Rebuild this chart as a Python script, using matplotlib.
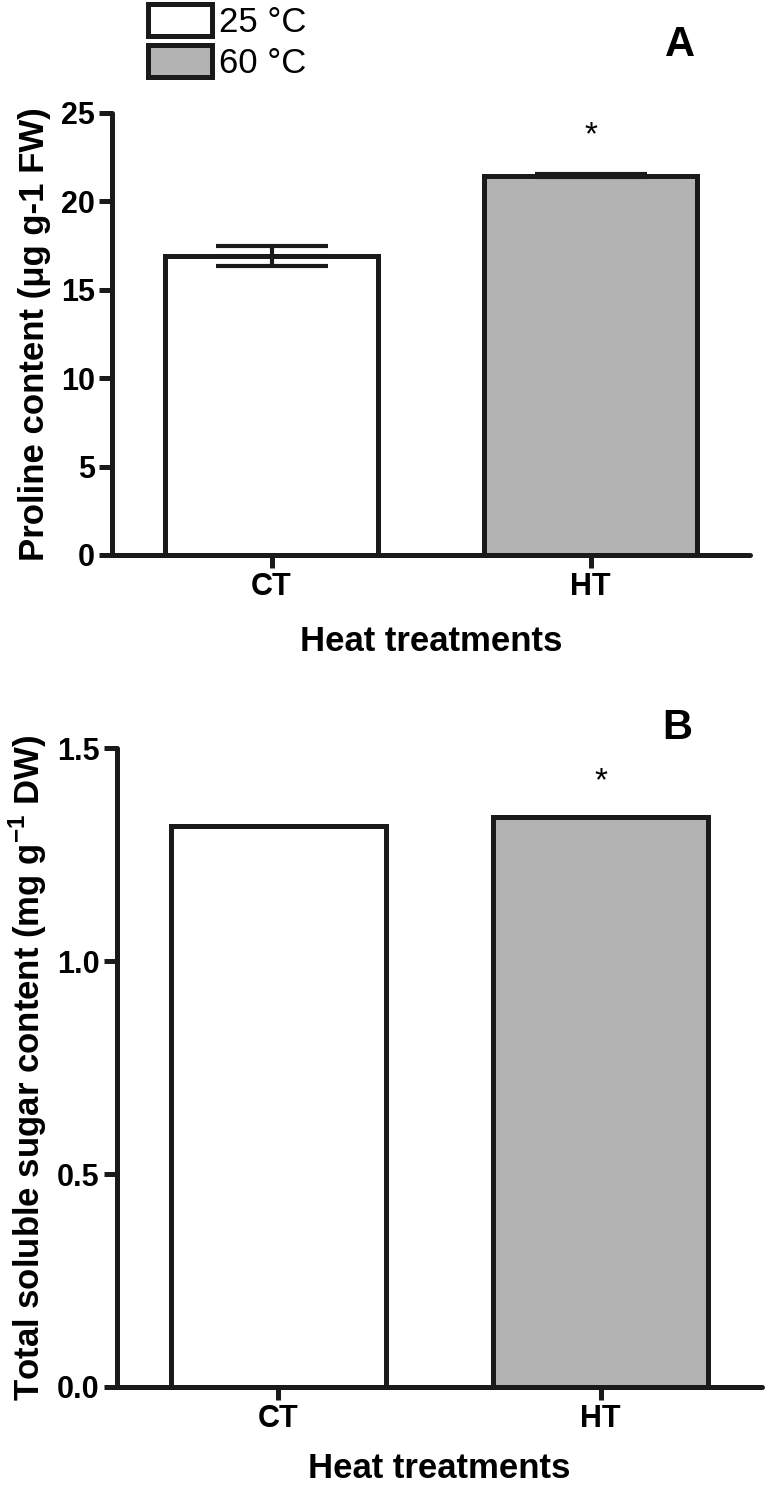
import numpy as np
import matplotlib.pyplot as plt
from matplotlib.patches import Patch

plt.rcParams['font.family'] = ['Liberation Sans', 'DejaVu Sans']
plt.rcParams['mathtext.fontset'] = 'custom'
plt.rcParams['mathtext.rm'] = 'Liberation Sans'
plt.rcParams['mathtext.bf'] = 'Liberation Sans:bold'

# data
groups = ['CT', 'HT']
legend_labels = ['25 \u00b0C', '60 \u00b0C']
proline = [16.9, 21.45]
proline_err = [0.57, 0.08]
sugar = [1.317, 1.337]
sugar_err = [0.0, 0.002]
proline_ticks = [0, 5, 10, 15, 20, 25]
sugar_ticks = [0.0, 0.5, 1.0, 1.5]

colors = ['white', '#b3b3b3']
edge = '#1a1a1a'
lw = 3.6


def style_axes(ax):
    for s in ['top', 'right']:
        ax.spines[s].set_visible(False)
    for s in ['left', 'bottom']:
        ax.spines[s].set_linewidth(lw)
        ax.spines[s].set_color(edge)
        ax.spines[s].set_capstyle('round')
    ax.tick_params(direction='out', length=9.5, width=lw, color=edge,
                   labelsize=22, pad=3)
    for lab in ax.get_xticklabels() + ax.get_yticklabels():
        lab.set_fontweight('bold')


fig = plt.figure(figsize=(7.68, 14.86), dpi=100)

# panel A
axA = fig.add_axes([112/768, 1-555/1486, 638/768, 442/1486])
x = np.arange(len(groups))
axA.bar(x, proline, width=0.667, color=colors, edgecolor=edge, linewidth=lw, zorder=2)
axA.errorbar(x, proline, yerr=proline_err, fmt='none', ecolor=edge,
             elinewidth=3, capsize=40, capthick=3, zorder=3)
axA.set_xlim(-0.5, 1.5)
axA.set_ylim(0, 25)
axA.set_yticks(proline_ticks)
axA.set_xticks(x)
axA.set_xticklabels(groups)
style_axes(axA)
axA.set_ylabel('Proline content (\u03bcg g-1 FW)', fontsize=25, fontweight='bold', labelpad=7)
axA.set_xlabel('Heat treatments', fontsize=25, fontweight='bold', labelpad=16)
axA.text(1, 23.7, '*', ha='center', va='center', fontsize=24)
axA.text(0.89, 1.154, 'A', transform=axA.transAxes, ha='center', va='center',
         fontsize=30, fontweight='bold')

# panel B
axB = fig.add_axes([117/768, 1-1387/1486, 645/768, 639/1486])
axB.bar(x, sugar, width=0.667, color=colors, edgecolor=edge, linewidth=lw, zorder=2)
axB.errorbar(x, sugar, yerr=sugar_err, fmt='none', ecolor=edge,
             elinewidth=1.5, capsize=40, capthick=1.5, zorder=3)
axB.set_xlim(-0.5, 1.5)
axB.set_ylim(0, 1.5)
axB.set_yticks(sugar_ticks)
axB.set_yticklabels(['%.1f' % t for t in sugar_ticks])
axB.set_xticks(x)
axB.set_xticklabels(groups)
style_axes(axB)
axB.set_ylabel(r'Total soluble sugar content (mg g$^{\mathbf{-1}}$ DW)', fontsize=25,
               fontweight='bold', labelpad=6)
axB.set_xlabel('Heat treatments', fontsize=25, fontweight='bold', labelpad=13)
axB.text(1, 1.42, '*', ha='center', va='center', fontsize=24)
axB.text(0.868, 1.031, 'B', transform=axB.transAxes, ha='center', va='center',
         fontsize=30, fontweight='bold')

# legend
handles = [Patch(facecolor=c, edgecolor=edge, linewidth=lw) for c in colors]
fig.legend(handles, legend_labels, loc='upper left', bbox_to_anchor=(148/768, 1-4/1486),
           frameon=False, fontsize=25, handlelength=1.85, handleheight=1.05,
           handletextpad=0.2, labelspacing=0.18, borderpad=0, borderaxespad=0)

fig.savefig('out.png', dpi=100)
